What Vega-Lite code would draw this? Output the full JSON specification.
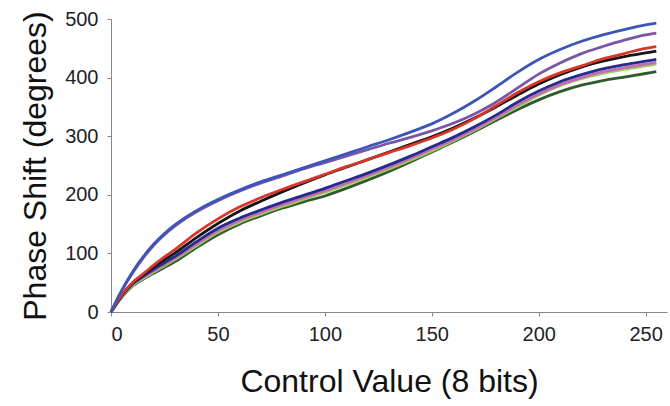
{
  "$schema": "https://vega.github.io/schema/vega-lite/v6.json",
  "width": 556,
  "height": 293,
  "autosize": "none",
  "padding": {"left": 111, "top": 19, "right": 3, "bottom": 94},
  "background": "white",
  "config": {"view": {"stroke": null}, "font": "Liberation Sans"},
  "data": {"values": [
    {"s":"1dkgreen","x":0,"y":0},{"s":"1dkgreen","x":5,"y":25},{"s":"1dkgreen","x":10,"y":44},{"s":"1dkgreen","x":15,"y":56},{"s":"1dkgreen","x":20,"y":66},{"s":"1dkgreen","x":25,"y":76},{"s":"1dkgreen","x":30,"y":86},{"s":"1dkgreen","x":40,"y":110},{"s":"1dkgreen","x":50,"y":132},{"s":"1dkgreen","x":60,"y":150},{"s":"1dkgreen","x":70,"y":164},{"s":"1dkgreen","x":80,"y":177},{"s":"1dkgreen","x":90,"y":188},{"s":"1dkgreen","x":100,"y":198},{"s":"1dkgreen","x":110,"y":211},{"s":"1dkgreen","x":120,"y":225},{"s":"1dkgreen","x":130,"y":240},{"s":"1dkgreen","x":140,"y":256},{"s":"1dkgreen","x":150,"y":273},{"s":"1dkgreen","x":160,"y":290},{"s":"1dkgreen","x":170,"y":308},{"s":"1dkgreen","x":180,"y":327},{"s":"1dkgreen","x":190,"y":345},{"s":"1dkgreen","x":200,"y":362},{"s":"1dkgreen","x":210,"y":376},{"s":"1dkgreen","x":220,"y":387},{"s":"1dkgreen","x":230,"y":395},{"s":"1dkgreen","x":240,"y":401},{"s":"1dkgreen","x":250,"y":407},{"s":"1dkgreen","x":255,"y":410},
    {"s":"2ltgreen","x":0,"y":0},{"s":"2ltgreen","x":5,"y":26},{"s":"2ltgreen","x":10,"y":45},{"s":"2ltgreen","x":15,"y":57},{"s":"2ltgreen","x":20,"y":68},{"s":"2ltgreen","x":25,"y":79},{"s":"2ltgreen","x":30,"y":90},{"s":"2ltgreen","x":40,"y":113},{"s":"2ltgreen","x":50,"y":136},{"s":"2ltgreen","x":60,"y":153},{"s":"2ltgreen","x":70,"y":167},{"s":"2ltgreen","x":80,"y":180},{"s":"2ltgreen","x":90,"y":192},{"s":"2ltgreen","x":100,"y":204},{"s":"2ltgreen","x":110,"y":217},{"s":"2ltgreen","x":120,"y":230},{"s":"2ltgreen","x":130,"y":244},{"s":"2ltgreen","x":140,"y":259},{"s":"2ltgreen","x":150,"y":275},{"s":"2ltgreen","x":160,"y":292},{"s":"2ltgreen","x":170,"y":310},{"s":"2ltgreen","x":180,"y":330},{"s":"2ltgreen","x":190,"y":350},{"s":"2ltgreen","x":200,"y":370},{"s":"2ltgreen","x":210,"y":386},{"s":"2ltgreen","x":220,"y":398},{"s":"2ltgreen","x":230,"y":407},{"s":"2ltgreen","x":240,"y":414},{"s":"2ltgreen","x":250,"y":420},{"s":"2ltgreen","x":255,"y":423},
    {"s":"3magenta","x":0,"y":0},{"s":"3magenta","x":5,"y":27},{"s":"3magenta","x":10,"y":47},{"s":"3magenta","x":15,"y":59},{"s":"3magenta","x":20,"y":70},{"s":"3magenta","x":25,"y":81},{"s":"3magenta","x":30,"y":92},{"s":"3magenta","x":40,"y":116},{"s":"3magenta","x":50,"y":139},{"s":"3magenta","x":60,"y":156},{"s":"3magenta","x":70,"y":170},{"s":"3magenta","x":80,"y":183},{"s":"3magenta","x":90,"y":195},{"s":"3magenta","x":100,"y":207},{"s":"3magenta","x":110,"y":220},{"s":"3magenta","x":120,"y":233},{"s":"3magenta","x":130,"y":247},{"s":"3magenta","x":140,"y":262},{"s":"3magenta","x":150,"y":278},{"s":"3magenta","x":160,"y":294},{"s":"3magenta","x":170,"y":312},{"s":"3magenta","x":180,"y":332},{"s":"3magenta","x":190,"y":353},{"s":"3magenta","x":200,"y":372},{"s":"3magenta","x":210,"y":388},{"s":"3magenta","x":220,"y":400},{"s":"3magenta","x":230,"y":410},{"s":"3magenta","x":240,"y":417},{"s":"3magenta","x":250,"y":423},{"s":"3magenta","x":255,"y":426},
    {"s":"4navy","x":0,"y":0},{"s":"4navy","x":5,"y":28},{"s":"4navy","x":10,"y":48},{"s":"4navy","x":15,"y":61},{"s":"4navy","x":20,"y":73},{"s":"4navy","x":25,"y":84},{"s":"4navy","x":30,"y":95},{"s":"4navy","x":40,"y":120},{"s":"4navy","x":50,"y":143},{"s":"4navy","x":60,"y":160},{"s":"4navy","x":70,"y":174},{"s":"4navy","x":80,"y":187},{"s":"4navy","x":90,"y":199},{"s":"4navy","x":100,"y":211},{"s":"4navy","x":110,"y":224},{"s":"4navy","x":120,"y":237},{"s":"4navy","x":130,"y":251},{"s":"4navy","x":140,"y":266},{"s":"4navy","x":150,"y":282},{"s":"4navy","x":160,"y":298},{"s":"4navy","x":170,"y":316},{"s":"4navy","x":180,"y":336},{"s":"4navy","x":190,"y":358},{"s":"4navy","x":200,"y":377},{"s":"4navy","x":210,"y":393},{"s":"4navy","x":220,"y":405},{"s":"4navy","x":230,"y":415},{"s":"4navy","x":240,"y":422},{"s":"4navy","x":250,"y":428},{"s":"4navy","x":255,"y":431},
    {"s":"5black","x":0,"y":0},{"s":"5black","x":5,"y":28},{"s":"5black","x":10,"y":49},{"s":"5black","x":15,"y":63},{"s":"5black","x":20,"y":77},{"s":"5black","x":25,"y":89},{"s":"5black","x":30,"y":101},{"s":"5black","x":40,"y":127},{"s":"5black","x":50,"y":151},{"s":"5black","x":60,"y":172},{"s":"5black","x":70,"y":189},{"s":"5black","x":80,"y":205},{"s":"5black","x":90,"y":220},{"s":"5black","x":100,"y":234},{"s":"5black","x":110,"y":247},{"s":"5black","x":120,"y":260},{"s":"5black","x":130,"y":273},{"s":"5black","x":140,"y":286},{"s":"5black","x":150,"y":299},{"s":"5black","x":160,"y":314},{"s":"5black","x":170,"y":331},{"s":"5black","x":180,"y":350},{"s":"5black","x":190,"y":370},{"s":"5black","x":200,"y":389},{"s":"5black","x":210,"y":405},{"s":"5black","x":220,"y":418},{"s":"5black","x":230,"y":428},{"s":"5black","x":240,"y":436},{"s":"5black","x":250,"y":442},{"s":"5black","x":255,"y":445},
    {"s":"6red","x":0,"y":0},{"s":"6red","x":5,"y":29},{"s":"6red","x":10,"y":50},{"s":"6red","x":15,"y":65},{"s":"6red","x":20,"y":80},{"s":"6red","x":25,"y":94},{"s":"6red","x":30,"y":107},{"s":"6red","x":40,"y":135},{"s":"6red","x":50,"y":159},{"s":"6red","x":60,"y":179},{"s":"6red","x":70,"y":195},{"s":"6red","x":80,"y":209},{"s":"6red","x":90,"y":222},{"s":"6red","x":100,"y":235},{"s":"6red","x":110,"y":248},{"s":"6red","x":120,"y":260},{"s":"6red","x":130,"y":272},{"s":"6red","x":140,"y":284},{"s":"6red","x":150,"y":297},{"s":"6red","x":160,"y":312},{"s":"6red","x":170,"y":330},{"s":"6red","x":180,"y":352},{"s":"6red","x":190,"y":374},{"s":"6red","x":200,"y":393},{"s":"6red","x":210,"y":408},{"s":"6red","x":220,"y":420},{"s":"6red","x":230,"y":432},{"s":"6red","x":240,"y":441},{"s":"6red","x":250,"y":450},{"s":"6red","x":255,"y":453},
    {"s":"7purple","x":0,"y":0},{"s":"7purple","x":5,"y":36},{"s":"7purple","x":10,"y":66},{"s":"7purple","x":15,"y":92},{"s":"7purple","x":20,"y":114},{"s":"7purple","x":25,"y":132},{"s":"7purple","x":30,"y":147},{"s":"7purple","x":35,"y":160},{"s":"7purple","x":40,"y":171},{"s":"7purple","x":45,"y":181},{"s":"7purple","x":50,"y":190},{"s":"7purple","x":60,"y":206},{"s":"7purple","x":70,"y":220},{"s":"7purple","x":80,"y":232},{"s":"7purple","x":90,"y":244},{"s":"7purple","x":100,"y":255},{"s":"7purple","x":110,"y":266},{"s":"7purple","x":120,"y":277},{"s":"7purple","x":130,"y":288},{"s":"7purple","x":140,"y":298},{"s":"7purple","x":150,"y":309},{"s":"7purple","x":160,"y":322},{"s":"7purple","x":170,"y":338},{"s":"7purple","x":180,"y":358},{"s":"7purple","x":190,"y":382},{"s":"7purple","x":200,"y":406},{"s":"7purple","x":210,"y":425},{"s":"7purple","x":220,"y":441},{"s":"7purple","x":230,"y":453},{"s":"7purple","x":240,"y":464},{"s":"7purple","x":250,"y":473},{"s":"7purple","x":255,"y":476},
    {"s":"8blue","x":0,"y":0},{"s":"8blue","x":5,"y":37},{"s":"8blue","x":10,"y":68},{"s":"8blue","x":15,"y":94},{"s":"8blue","x":20,"y":116},{"s":"8blue","x":25,"y":134},{"s":"8blue","x":30,"y":149},{"s":"8blue","x":35,"y":162},{"s":"8blue","x":40,"y":173},{"s":"8blue","x":45,"y":183},{"s":"8blue","x":50,"y":192},{"s":"8blue","x":60,"y":208},{"s":"8blue","x":70,"y":222},{"s":"8blue","x":80,"y":234},{"s":"8blue","x":90,"y":246},{"s":"8blue","x":100,"y":258},{"s":"8blue","x":110,"y":270},{"s":"8blue","x":120,"y":282},{"s":"8blue","x":130,"y":294},{"s":"8blue","x":140,"y":307},{"s":"8blue","x":150,"y":321},{"s":"8blue","x":160,"y":339},{"s":"8blue","x":170,"y":360},{"s":"8blue","x":180,"y":384},{"s":"8blue","x":190,"y":409},{"s":"8blue","x":200,"y":431},{"s":"8blue","x":210,"y":448},{"s":"8blue","x":220,"y":462},{"s":"8blue","x":230,"y":473},{"s":"8blue","x":240,"y":482},{"s":"8blue","x":250,"y":490},{"s":"8blue","x":255,"y":493}
  ]},
  "mark": {"type": "line", "strokeWidth": 2.8, "interpolate": "monotone"},
  "encoding": {
    "x": {"field": "x", "type": "quantitative",
      "scale": {"domain": [0, 260], "nice": false},
      "axis": {"values": [0, 50, 100, 150, 200, 250], "title": "Control Value (8 bits)", "grid": false,
        "domainColor": "#888", "tickColor": "#888", "tickSize": 4,
        "labelFont": "Liberation Sans", "labelFontSize": 20, "labelColor": "#222", "labelPadding": 8,
        "titleFont": "Liberation Sans", "titleFontSize": 32, "titleFontWeight": "normal", "titleColor": "#111", "titlePadding": 22}},
    "y": {"field": "y", "type": "quantitative",
      "scale": {"domain": [0, 500], "nice": false},
      "axis": {"values": [0, 100, 200, 300, 400, 500], "title": "Phase Shift (degrees)", "grid": false,
        "domainColor": "#888", "tickColor": "#888", "tickSize": 4,
        "labelFont": "Liberation Sans", "labelFontSize": 20, "labelColor": "#222", "labelPadding": 9,
        "titleFont": "Liberation Sans", "titleFontSize": 32, "titleFontWeight": "normal", "titleColor": "#111", "titlePadding": 12}},
    "color": {"field": "s", "type": "nominal", "legend": null,
      "scale": {"domain": ["1dkgreen","2ltgreen","3magenta","4navy","5black","6red","7purple","8blue"],
        "range": ["#2f5a2c","#9ccf5a","#c46ab8","#232c8c","#151515","#d8362a","#7a55a8","#3b56b8"]}}
  }
}
